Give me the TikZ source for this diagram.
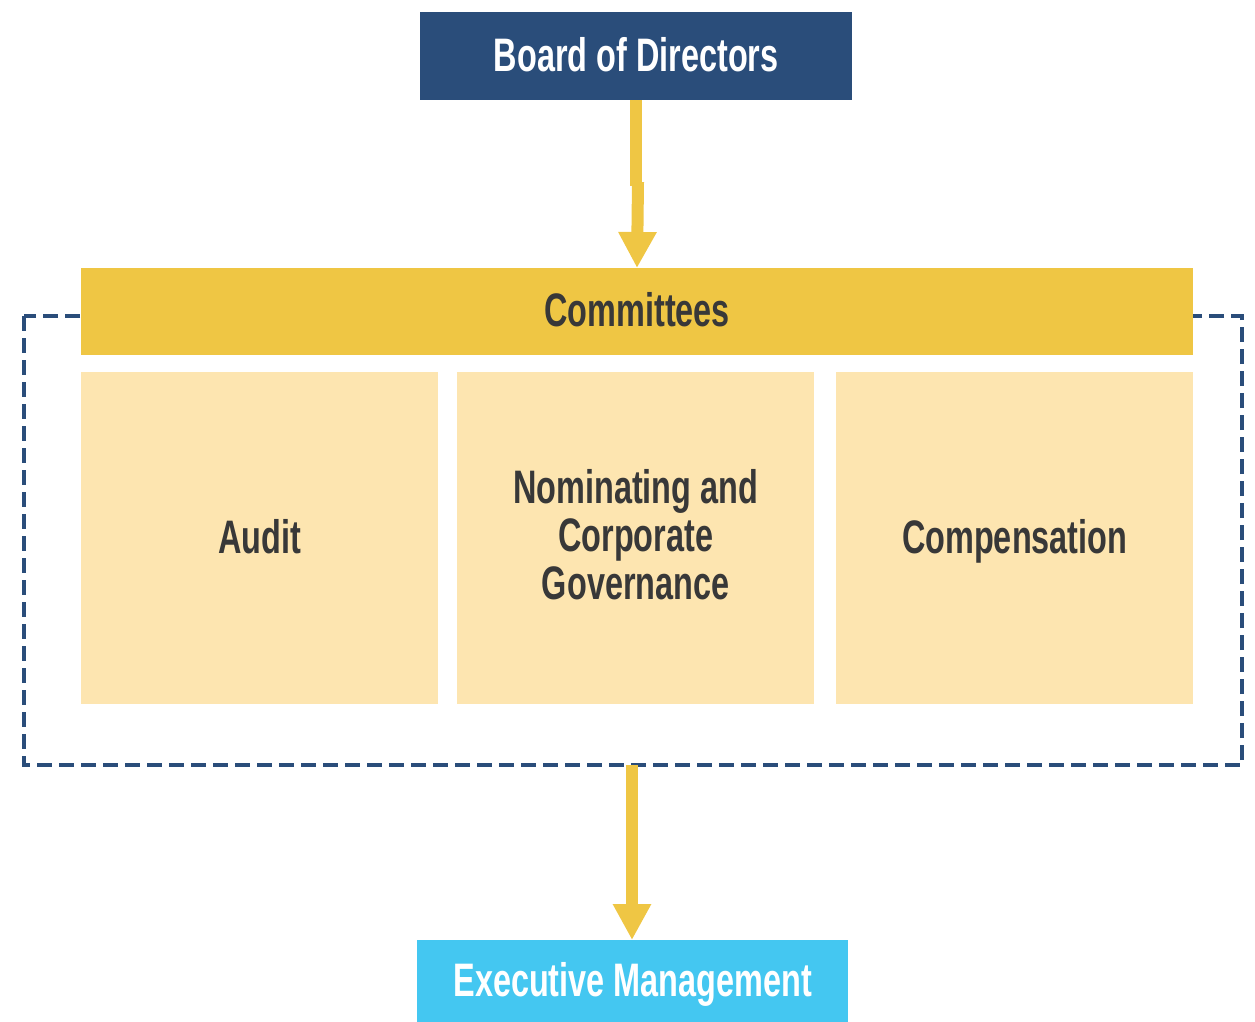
\documentclass[tikz,border=0pt]{standalone}
\usepackage{fontspec}
\setmainfont{Liberation Sans}[FakeStretch=0.69]
\usetikzlibrary{arrows.meta}
\definecolor{navy}{HTML}{2A4D7A}
\definecolor{gold}{HTML}{EFC644}
\definecolor{cream}{HTML}{FDE5B0}
\definecolor{sky}{HTML}{44C7F1}
\definecolor{ink}{HTML}{383838}
\tikzset{
  box/.style={rectangle, inner sep=0pt, anchor=north west, align=center,
    font=\fontsize{47}{48}\selectfont\bfseries},
  oneline/.style={box, text height=36pt, text depth=6pt},
  multiline/.style={box, text depth=8pt},
  committee/.style={fill=cream, text=ink, minimum width=357pt, minimum height=332pt},
  flow/.style={draw=gold, line width=12pt},
  flowhead/.style={-{Triangle[width=36pt,length=36pt]}, draw=gold, fill=gold, line width=12pt},
  frame/.style={draw=navy, line width=3.5pt, dash pattern=on 15pt off 7pt}
}
\begin{document}
\begin{tikzpicture}[x=1pt,y=-1pt]
\useasboundingbox (0,0) rectangle (1255,1022);
% dashed frame round the committees
\draw[frame] (24,316) rectangle (1242,765);
\coordinate (framebottom) at (632,765);
% top and bottom boxes
\node[oneline, fill=navy, text=white, minimum width=432pt, minimum height=88pt] (board) at (420,12) {Board of Directors};
\node[oneline, fill=sky, text=white, minimum width=431pt, minimum height=82pt] (exec) at (417,940) {Executive Management};
% committees header and the three committees
\node[oneline, fill=gold, text=ink, minimum width=1112pt, minimum height=87pt] (committees) at (81,268) {Committees};
\node[oneline, committee] (audit) at (81,372) {Audit};
\node[multiline, committee] (nominating) at (457,372) {Nominating and\\Corporate\\Governance};
\node[oneline, committee] (compensation) at (836,372) {Compensation};
% connectors
\coordinate (jog) at (636,186);
\draw[flow] (board.south -| jog) -- (jog);
\draw[flowhead] ([xshift=2pt]jog) ++(0,-4) -- (committees.north -| 637,0);
\draw[flowhead] (framebottom) -- (exec.north -| framebottom);
\end{tikzpicture}
\end{document}
